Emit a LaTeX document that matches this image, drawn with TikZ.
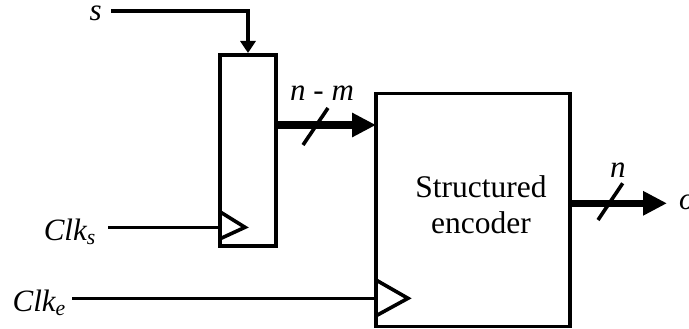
\documentclass[tikz,border=0pt]{standalone}
\usepackage{fontspec}
\setmainfont{Liberation Serif}
\usetikzlibrary{arrows.meta,calc}
\begin{document}
\begin{tikzpicture}[x=1pt,y=-1pt,
  wire/.style={line width=3.6pt},
  bus/.style={line width=7.5pt},
  box/.style={draw,line width=3.8pt,inner sep=0pt,outer sep=0pt},
  lbl/.style={inner sep=0pt,font=\fontsize{31}{36}\selectfont\itshape},
  txt/.style={inner sep=0pt,font=\fontsize{31.5}{36}\selectfont},
  thinhead/.style={-{Triangle[length=12pt,width=15pt]}},
  bushead/.style={-{Triangle[length=24pt,width=23pt]}}]
\useasboundingbox (0,0) rectangle (689,329);
% blocks
\node[box,minimum width=56pt,minimum height=191pt] (reg) at (248,150.5) {};
\node[box,minimum width=194pt,minimum height=233pt] (enc) at (473,210) {};
\node[txt,anchor=base] (t1) at (481,197) {Structured};
\node[txt,anchor=base] (t2) at (481,233) {encoder};
% labels
\node[lbl,anchor=base east] (slbl) at (102,20.5) {s};
\node[lbl,anchor=base east] (clks) at (96,240.7) {Clk\textsubscript{s}};
\node[lbl,anchor=base east] (clke) at (66,311.7) {Clk\textsubscript{e}};
\node[lbl,anchor=base west] (nm) at (290,101) {n - m};
\node[lbl,anchor=base west] (nlbl) at (610,177) {n};
\node[lbl,anchor=base west] (olbl) at (679,209.5) {o};
% s input
\coordinate (sA) at (111,11.3);
\draw[wire,thinhead] (sA) -| ([yshift=2pt]reg.north);
% bus n-m
\coordinate (busA) at ([yshift=25.5pt]reg.east);
\draw[bus,bushead] (busA) -- (busA -| enc.west);
\draw[wire] (303,145) -- (328,108);
% output
\coordinate (outA) at ([yshift=6.7pt]enc.east);
\coordinate (oend) at (667,203.3);
\draw[bus,bushead] (outA) -- (oend);
\draw[wire] (598,220) -- (622.7,183.3);
% clocks
\coordinate (ckA) at (108,227.3);
\draw[wire] (ckA) -- (ckA -| reg.west);
\draw[wire,line join=miter] ([yshift=15.5pt]ckA -| reg.west) -- ++(25,15.5) -- ++(-25,11.5);
\coordinate (ceA) at (72,298.3);
\draw[wire] (ceA) -- (ceA -| enc.west);
\draw[wire,line join=miter] ([yshift=18.3pt]ceA -| enc.west) -- ++(32,18.3) -- ++(-32,17.5);
\end{tikzpicture}
\end{document}
